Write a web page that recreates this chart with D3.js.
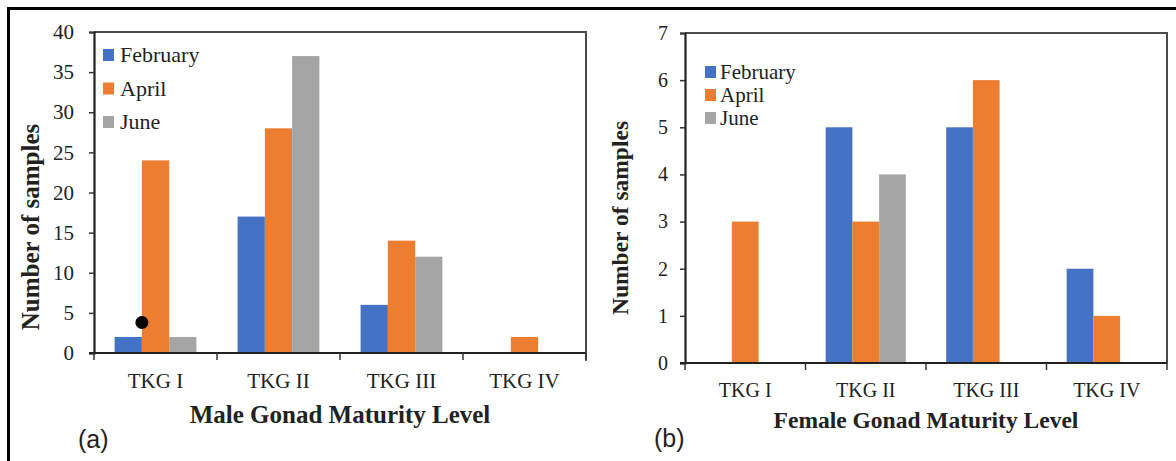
<!DOCTYPE html>
<html>
<head>
<meta charset="utf-8">
<script src="https://cdn.jsdelivr.net/npm/d3@7"></script>
<style>
  body { margin: 0; background: #fff; }
  svg { display: block; }
  .serif { font-family: "Liberation Serif", "Times New Roman", serif; fill: #222; }
</style>
</head>
<body>
<svg width="1176" height="461"></svg>
<script>
// maturity levels and months
const levels = ['TKG I', 'TKG II', 'TKG III', 'TKG IV'];
const months = ['February', 'April', 'June'];
const colors = ['#4472C4', '#ED7D31', '#A5A5A5'];

// male counts per month
const maleFeb = [2, 17, 6, 0];
const maleApr = [24, 28, 14, 2];
const maleJun = [2, 37, 12, 0];
const maleTicks = [0, 5, 10, 15, 20, 25, 30, 35, 40];

// female counts per month
const femaleFeb = [0, 5, 5, 2];
const femaleApr = [3, 3, 6, 1];
const femaleJun = [0, 4, 0, 0];
const femaleTicks = [0, 1, 2, 3, 4, 5, 6, 7];

const SERIF = '"Liberation Serif", "Times New Roman", serif';
const svg = d3.select('svg');

// outer frame (only top and left edges show)
svg.append('path')
  .attr('d', 'M8.5,461 L8.5,8.5 L1176,8.5')
  .attr('fill', 'none')
  .attr('stroke', '#000')
  .attr('stroke-width', 3);

function panel(cfg) {
  const g = svg.append('g');
  const x0 = d3.scaleBand().domain(levels).range([cfg.left, cfg.right]);
  const gap = x0.step() * 0.335;
  const x1 = d3.scaleBand().domain(months).range([gap / 2, x0.step() - gap / 2]);
  const y = d3.scaleLinear().domain([0, cfg.max]).range([cfg.bottom, cfg.top]);

  // plot frame
  g.append('path')
    .attr('d', `M${cfg.left},${cfg.top} L${cfg.right},${cfg.top} L${cfg.right},${cfg.bottom}`)
    .attr('fill', 'none')
    .attr('stroke', '#4a4a4a')
    .attr('stroke-width', 2);

  // bars
  const rows = levels.map((lv, i) => ({
    level: lv,
    vals: cfg.series.map((s, k) => ({ month: months[k], v: s[i], c: colors[k] })),
  }));
  g.selectAll('.grp')
    .data(rows)
    .enter()
    .append('g')
    .attr('transform', d => `translate(${x0(d.level)},0)`)
    .selectAll('rect')
    .data(d => d.vals.filter(e => e.v > 0))
    .enter()
    .append('rect')
    .attr('x', d => x1(d.month))
    .attr('width', x1.bandwidth())
    .attr('y', d => y(d.v))
    .attr('height', d => y(0) - y(d.v))
    .attr('fill', d => d.c);

  // y axis
  const ya = d3.axisLeft(y)
    .tickValues(cfg.ticks)
    .tickFormat(d3.format('d'))
    .tickSize(5)
    .tickPadding(cfg.tickPad);
  g.append('g')
    .attr('transform', `translate(${cfg.left},0)`)
    .call(ya)
    .attr('font-family', SERIF)
    .call(a => a.select('.domain').attr('stroke', '#222').attr('stroke-width', 2.2))
    .call(a => a.selectAll('.tick line').attr('stroke', '#333').attr('stroke-width', 1.5))
    .call(a => a.selectAll('text')
      .attr('font-family', SERIF)
      .attr('font-size', cfg.tickFont)
      .attr('fill', '#222'));

  // x axis with ticks at category boundaries
  g.append('line')
    .attr('x1', cfg.left - 5).attr('x2', cfg.right)
    .attr('y1', cfg.bottom).attr('y2', cfg.bottom)
    .attr('stroke', '#222').attr('stroke-width', 2.2);
  const bounds = levels.map(l => x0(l)).concat([cfg.right]);
  g.selectAll('.xt')
    .data(bounds)
    .enter()
    .append('line')
    .attr('x1', d => d).attr('x2', d => d)
    .attr('y1', cfg.bottom).attr('y2', cfg.bottom + 7)
    .attr('stroke', '#333').attr('stroke-width', 1.5);
  g.selectAll('.xl')
    .data(levels)
    .enter()
    .append('text')
    .attr('class', 'serif')
    .attr('x', d => x0(d) + x0.bandwidth() / 2)
    .attr('y', cfg.catY)
    .attr('text-anchor', 'middle')
    .attr('font-size', cfg.catFont)
    .text(d => d);

  // axis titles
  g.append('text')
    .attr('class', 'serif')
    .attr('x', (cfg.left + cfg.right) / 2)
    .attr('y', cfg.titleY)
    .attr('text-anchor', 'middle')
    .attr('font-size', cfg.titleFont)
    .attr('font-weight', 'bold')
    .text(cfg.xTitle);
  g.append('text')
    .attr('class', 'serif')
    .attr('transform', `translate(${cfg.yTitleX},${cfg.yTitleY}) rotate(-90)`)
    .attr('text-anchor', 'middle')
    .attr('font-size', cfg.titleFont)
    .attr('font-weight', 'bold')
    .text('Number of samples');

  // legend
  const lg = g.selectAll('.lg')
    .data(months)
    .enter()
    .append('g')
    .attr('transform', (d, i) => `translate(${cfg.legX},${cfg.legY + i * cfg.legStep})`);
  lg.append('rect')
    .attr('x', 0).attr('y', -6)
    .attr('width', 11).attr('height', 12)
    .attr('fill', (d, i) => colors[i]);
  lg.append('text')
    .attr('class', 'serif')
    .attr('x', cfg.legText)
    .attr('dy', '0.33em')
    .attr('font-size', cfg.legFont)
    .text(d => d);

  // panel letter
  g.append('text')
    .attr('x', cfg.tagX)
    .attr('y', cfg.tagY)
    .attr('font-family', '"Liberation Sans", Arial, sans-serif')
    .attr('font-size', 25)
    .attr('fill', '#222')
    .text(cfg.tag);

  return { x0, x1, y };
}

const male = panel({
  left: 94, right: 586, top: 32, bottom: 353, max: 40,
  series: [maleFeb, maleApr, maleJun], ticks: maleTicks,
  tickFont: 21, tickPad: 15, catFont: 21, catY: 388,
  titleFont: 25, titleY: 423, xTitle: 'Male Gonad Maturity Level',
  yTitleX: 39, yTitleY: 227,
  legX: 103, legY: 55, legStep: 33.5, legText: 17, legFont: 22,
  tag: '(a)', tagX: 78, tagY: 448,
});

// marker dot on panel (a), at the February/April boundary of TKG I
svg.append('circle')
  .attr('cx', male.x0('TKG I') + male.x1('April'))
  .attr('cy', male.y(3.8))
  .attr('r', 6.5)
  .attr('fill', '#000');

panel({
  left: 685, right: 1167, top: 33, bottom: 363, max: 7,
  series: [femaleFeb, femaleApr, femaleJun], ticks: femaleTicks,
  tickFont: 20, tickPad: 12, catFont: 20, catY: 397,
  titleFont: 23.5, titleY: 428, xTitle: 'Female Gonad Maturity Level',
  yTitleX: 628, yTitleY: 218,
  legX: 705, legY: 72, legStep: 23, legText: 15, legFont: 21,
  tag: '(b)', tagX: 654, tagY: 447,
});

// left panel's right frame edge ends at its axis line
svg.append('line')
  .attr('x1', 586).attr('x2', 586)
  .attr('y1', 353).attr('y2', 361)
  .attr('stroke', '#333').attr('stroke-width', 1.5);
</script>
</body>
</html>
